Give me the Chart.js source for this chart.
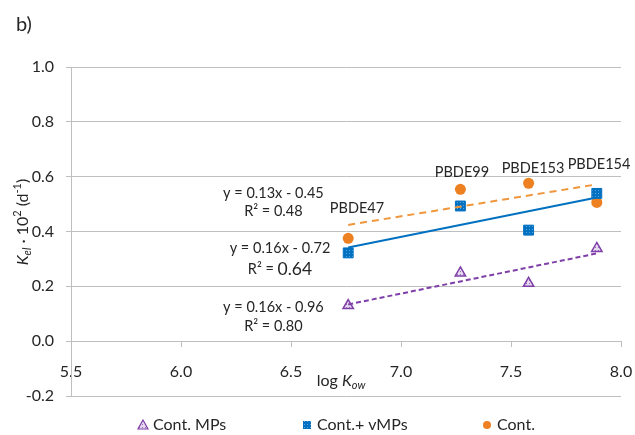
<!DOCTYPE html>
<html>
<head>
<meta charset="utf-8">
<script src="https://cdn.jsdelivr.net/npm/chart.js@4.4.0/dist/chart.umd.min.js"></script>
<style>
    html, body { margin: 0; padding: 0; background: #fff; }
    #wrap { width: 635px; height: 435px; position: relative; }
</style>
</head>
<body>
<div id="wrap"><canvas id="kelChart"></canvas></div>
<script>
// values
const LOG_KOW = [6.76, 7.27, 7.58, 7.89];
const CONGENERS = ["PBDE47", "PBDE99", "PBDE153", "PBDE154"];
const CONT_MPS = [0.130, 0.249, 0.211, 0.338];
const CONT_VMPS = [0.322, 0.493, 0.405, 0.539];
const CONT = [0.375, 0.554, 0.576, 0.506];

// trend line ends at first / last log Kow
const TREND_MPS = [0.134, 0.320];
const TREND_VMPS = [0.342, 0.524];
const TREND_CONT = [0.424, 0.572];

const EQUATIONS = ["y = 0.13x - 0.45", "y = 0.16x - 0.72", "y = 0.16x - 0.96"];
const R_SQUARED = ["0.48", "0.64", "0.80"];

const X_TICKS = [5.5, 6.0, 6.5, 7.0, 7.5, 8.0];
const Y_TICKS = [-0.2, 0.0, 0.2, 0.4, 0.6, 0.8, 1.0];

// where the text labels sit, in data units
const EQ_ANCHORS = [[6.42, 0.541, 0.472], [6.45, 0.339, 0.263], [6.42, 0.123, 0.053]];
const CONGENER_ANCHORS = [[6.80, 0.485], [7.277, 0.617], [7.60, 0.631], [7.90, 0.646]];

const FONT = "Lato";
const TEXT = "#262626";
const GRID = "#BFBFBF";

function points(ys) {
    return ys.map((y, i) => ({ x: LOG_KOW[i], y: y }));
}

function trend(ends) {
    return [{ x: LOG_KOW[0], y: ends[0] }, { x: LOG_KOW[LOG_KOW.length - 1], y: ends[1] }];
}

function dotPattern(bg, dot) {
    const c = document.createElement("canvas");
    c.width = 3;
    c.height = 3;
    const g = c.getContext("2d");
    g.fillStyle = bg;
    g.fillRect(0, 0, 3, 3);
    g.fillStyle = dot;
    g.fillRect(1, 1, 1, 1);
    return g.createPattern(c, "repeat");
}

const lavenderFill = dotPattern("#E6DAF0", "#9A70B8");
const blueFill = dotPattern("#0070C0", "#5AA6E0");

// text, custom legend and axis titles
const annotations = {
    id: "annotations",
    afterDraw(chart) {
        const ctx = chart.ctx;
        const xs = chart.scales.x;
        const ys = chart.scales.y;
        ctx.save();
        ctx.fillStyle = TEXT;
        ctx.textBaseline = "middle";

        // panel letter
        ctx.font = "20px " + FONT;
        ctx.textAlign = "left";
        ctx.fillText("b)", 16, 25);

        // congener labels
        ctx.font = "14.5px " + FONT;
        ctx.textAlign = "center";
        CONGENERS.forEach((name, i) => {
            const a = CONGENER_ANCHORS[i];
            ctx.fillText(name, xs.getPixelForValue(a[0]), ys.getPixelForValue(a[1]));
        });

        // regression equations
        EQUATIONS.forEach((eq, i) => {
            const a = EQ_ANCHORS[i];
            const cx = xs.getPixelForValue(a[0]);
            ctx.font = "14.5px " + FONT;
            ctx.textAlign = "center";
            ctx.fillText(eq, cx, ys.getPixelForValue(a[1]));
            const big = i === 1;
            const left = "R² = ";
            ctx.font = "14.5px " + FONT;
            const w1 = ctx.measureText(left).width;
            ctx.font = (big ? "17.5px " : "14.5px ") + FONT;
            const w2 = ctx.measureText(R_SQUARED[i]).width;
            const x0 = cx - (w1 + w2) / 2;
            const yy = ys.getPixelForValue(a[2]);
            ctx.textAlign = "left";
            ctx.font = "14.5px " + FONT;
            ctx.fillText(left, x0, yy);
            ctx.font = (big ? "17.5px " : "14.5px ") + FONT;
            ctx.fillText(R_SQUARED[i], x0 + w1, yy);
        });

        // x axis title: log Kow
        const area = chart.chartArea;
        const tx = (area.left + area.right) / 2 - 5;
        const ty = 381;
        ctx.font = "16px " + FONT;
        const wLog = ctx.measureText("log ").width;
        ctx.font = "italic 16px " + FONT;
        const wK = ctx.measureText("K").width;
        ctx.font = "italic 11px " + FONT;
        const wOw = ctx.measureText("ow").width;
        let px = tx - (wLog + wK + wOw) / 2;
        ctx.textAlign = "left";
        ctx.font = "16px " + FONT;
        ctx.fillText("log ", px, ty);
        px += wLog;
        ctx.font = "italic 16px " + FONT;
        ctx.fillText("K", px, ty);
        px += wK;
        ctx.font = "italic 11px " + FONT;
        ctx.fillText("ow", px, ty + 4);

        // y axis title: Kel · 10² (d⁻¹)
        const parts = [
            ["italic 16px ", "K", 0],
            ["italic 11px ", "el", 4],
            ["16px ", " · 10", 0],
            ["11px ", "2", -6],
            ["16px ", " (d", 0],
            ["11px ", "-1", -6],
            ["16px ", ")", 0],
        ];
        let total = 0;
        parts.forEach((p) => {
            ctx.font = p[0] + FONT;
            total += ctx.measureText(p[1]).width;
        });
        ctx.translate(23, 222);
        ctx.rotate(-Math.PI / 2);
        let qx = -total / 2;
        parts.forEach((p) => {
            ctx.font = p[0] + FONT;
            ctx.fillText(p[1], qx, p[2]);
            qx += ctx.measureText(p[1]).width;
        });
        ctx.setTransform(1, 0, 0, 1, 0, 0);

        // legend
        const items = [
            { ds: 3, mx: 143 },
            { ds: 4, mx: 307 },
            { ds: 5, mx: 487 },
        ];
        const ly = 425;
        items.forEach((it) => {
            const ds = chart.data.datasets[it.ds];
            ctx.lineWidth = 1.2;
            ctx.strokeStyle = ds.pointBorderColor;
            ctx.fillStyle = ds.pointBackgroundColor;
            ctx.beginPath();
            if (ds.pointStyle === "triangle") {
                ctx.moveTo(it.mx, ly - 5);
                ctx.lineTo(it.mx + 5, ly + 4);
                ctx.lineTo(it.mx - 5, ly + 4);
                ctx.closePath();
                ctx.fill();
                ctx.stroke();
            } else if (ds.pointStyle === "rect") {
                ctx.rect(it.mx - 4, ly - 4, 8, 8);
                ctx.fill();
            } else {
                ctx.arc(it.mx, ly, 4, 0, Math.PI * 2);
                ctx.fill();
            }
            ctx.fillStyle = TEXT;
            ctx.font = "16px " + FONT;
            ctx.textAlign = "left";
            ctx.fillText(ds.label, it.mx + 10, ly);
        });
        ctx.restore();
    },
};

new Chart(document.getElementById("kelChart"), {
    type: "scatter",
    data: {
        datasets: [
            {
                label: "trend Cont. MPs",
                data: trend(TREND_MPS),
                showLine: true,
                borderColor: "#7F3FA8",
                borderWidth: 2,
                borderDash: [5, 3],
                pointRadius: 0,
            },
            {
                label: "trend Cont.+ vMPs",
                data: trend(TREND_VMPS),
                showLine: true,
                borderColor: "#0070C0",
                borderWidth: 2,
                pointRadius: 0,
            },
            {
                label: "trend Cont.",
                data: trend(TREND_CONT),
                showLine: true,
                borderColor: "#F0963C",
                borderWidth: 2,
                borderDash: [7, 5],
                pointRadius: 0,
            },
            {
                label: "Cont. MPs",
                data: points(CONT_MPS),
                pointStyle: "triangle",
                pointRadius: 6,
                pointBorderWidth: 1.5,
                pointBorderColor: "#7F3FA8",
                pointBackgroundColor: lavenderFill,
            },
            {
                label: "Cont.+ vMPs",
                data: points(CONT_VMPS),
                pointStyle: "rect",
                pointRadius: 7,
                pointBorderWidth: 1,
                pointBorderColor: "#0070C0",
                pointBackgroundColor: blueFill,
            },
            {
                label: "Cont.",
                data: points(CONT),
                pointStyle: "circle",
                pointRadius: 5.5,
                pointBorderWidth: 0,
                pointBorderColor: "#ED8021",
                pointBackgroundColor: "#ED8021",
            },
        ],
    },
    options: {
        responsive: true,
        maintainAspectRatio: false,
        animation: false,
        layout: { padding: { top: 67, right: 14, bottom: 39, left: 0 } },
        plugins: {
            legend: { display: false },
            tooltip: { enabled: false },
        },
        scales: {
            x: {
                type: "linear",
                position: { y: 0 },
                min: 5.5,
                max: 8.0,
                afterBuildTicks: (s) => { s.ticks = X_TICKS.map((v) => ({ value: v })); },
                afterFit: (s) => {
                    s.height = 0;
                    s.paddingLeft = 0;
                    s.paddingRight = 0;
                },
                ticks: {
                    autoSkip: false,
                    maxRotation: 0,
                    padding: 16,
                    color: TEXT,
                    font: { family: FONT, size: 16 },
                    callback: (v) => Number(v).toFixed(1),
                },
                grid: { drawOnChartArea: false, tickLength: 5, color: GRID },
                border: { color: GRID },
            },
            y: {
                min: -0.2,
                max: 1.0,
                afterBuildTicks: (s) => { s.ticks = Y_TICKS.map((v) => ({ value: v })); },
                afterFit: (s) => { s.width = 71; },
                ticks: {
                    padding: 12,
                    color: TEXT,
                    font: { family: FONT, size: 16 },
                    callback: (v) => Number(v).toFixed(1),
                },
                grid: { color: GRID, tickLength: 5 },
                border: { color: GRID },
            },
        },
    },
    plugins: [annotations],
});
</script>
</body>
</html>
